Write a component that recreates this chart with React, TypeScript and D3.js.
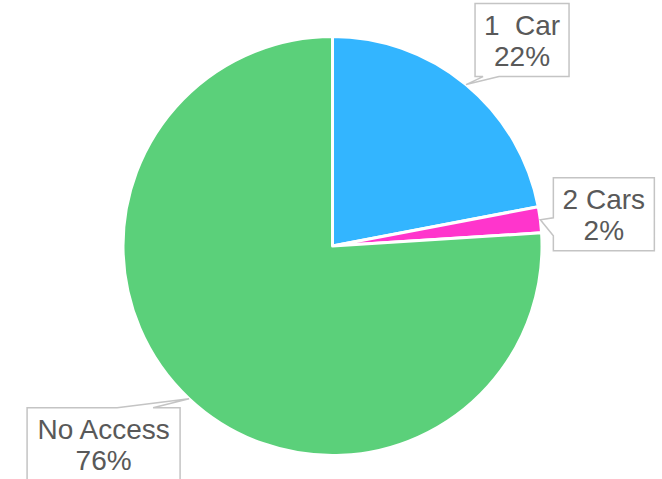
import React from "react";
import * as d3 from "d3";

const categories = ["1  Car", "2 Cars", "No Access"];
const values = [22, 2, 76];
const percentLabels = ["22%", "2%", "76%"];
const colors = ["#33b5ff", "#ff35cc", "#5bd07a"];

// layout of each callout: box offset from anchor, size, tail side
const callouts = [
  { dx: 9, dy: -81, w: 94, h: 73, side: "bottom", t0: 8, t1: 24 },
  { dx: 13, dy: -42, w: 101, h: 73, side: "left", t0: 40, t1: 58 },
  { dx: -162, dy: 9, w: 153, h: 73, side: "top", t0: 90, t1: 126 },
];

const W = 662;
const H = 479;
const cx = 332.5;
const cy = 246;
const R = 209.5;

function calloutPath(bx: number, by: number, w: number, h: number, side: string, t0: number, t1: number, ax: number, ay: number) {
  const p = d3.path();
  if (side === "bottom") {
    p.moveTo(bx, by);
    p.lineTo(bx + w, by);
    p.lineTo(bx + w, by + h);
    p.lineTo(bx + t1, by + h);
    p.lineTo(ax, ay);
    p.lineTo(bx + t0, by + h);
    p.lineTo(bx, by + h);
    p.closePath();
  } else if (side === "left") {
    p.moveTo(bx, by);
    p.lineTo(bx + w, by);
    p.lineTo(bx + w, by + h);
    p.lineTo(bx, by + h);
    p.lineTo(bx, by + t1);
    p.lineTo(ax, ay);
    p.lineTo(bx, by + t0);
    p.closePath();
  } else {
    p.moveTo(bx, by);
    p.lineTo(bx + t0, by);
    p.lineTo(ax, ay);
    p.lineTo(bx + t1, by);
    p.lineTo(bx + w, by);
    p.lineTo(bx + w, by + h);
    p.lineTo(bx, by + h);
    p.closePath();
  }
  return p.toString();
}

export default function App() {
  const pie = d3.pie<number>().sort(null).value((d) => d);
  const arcs = pie(values);
  const arcGen = d3.arc<d3.PieArcDatum<number>>().innerRadius(0).outerRadius(R);

  return (
    <svg width={W} height={H} style={{ position: "absolute", left: 0, top: 0 }}>
      <g transform={`translate(${cx},${cy})`}>
        {arcs.map((a, i) => (
          <path key={i} d={arcGen(a) || ""} fill={colors[i]} stroke="#ffffff" strokeWidth={3} strokeLinejoin="round" />
        ))}
      </g>
      {arcs.map((a, i) => {
        const mid = (a.startAngle + a.endAngle) / 2;
        const ax = cx + R * Math.sin(mid);
        const ay = cy - R * Math.cos(mid);
        const c = callouts[i];
        const bx = ax + c.dx;
        const by = ay + c.dy;
        return (
          <g key={"l" + i}>
            <path
              d={calloutPath(bx, by, c.w, c.h, c.side, c.t0, c.t1, ax, ay)}
              fill="#ffffff"
              stroke="#c4c4c4"
              strokeWidth={1.5}
            />
            <text
              x={bx + c.w / 2}
              y={by + 31}
              textAnchor="middle"
              fontFamily="'Liberation Sans', Arial, sans-serif"
              fontSize={28}
              fill="#595959"
              style={{ whiteSpace: "pre" }}
            >
              {categories[i]}
            </text>
            <text
              x={bx + c.w / 2}
              y={by + 62}
              textAnchor="middle"
              fontFamily="'Liberation Sans', Arial, sans-serif"
              fontSize={28}
              fill="#595959"
            >
              {percentLabels[i]}
            </text>
          </g>
        );
      })}
    </svg>
  );
}
